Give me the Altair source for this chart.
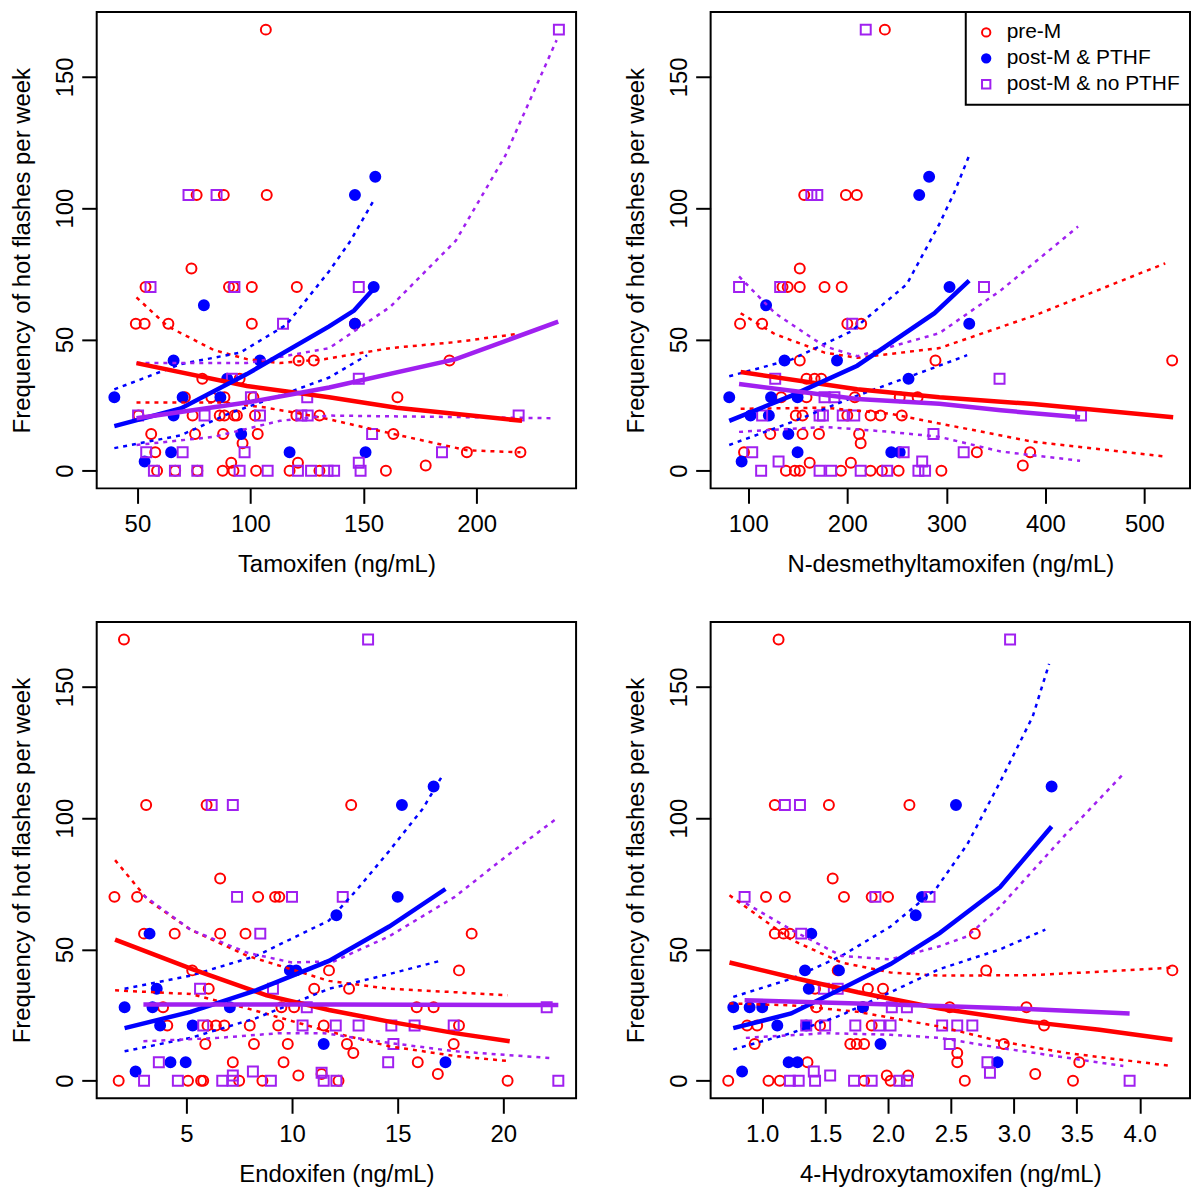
import altair as alt
import pandas as pd

GROUPS = ["pre-M", "post-M & PTHF", "post-M & no PTHF"]
COLORS = ["#FF0000", "#0000FF", "#A020F0"]
FILLS = ["transparent", "#0000FF", "transparent"]
SHAPES = ["circle", "circle", "square"]

Y_TITLE = "Frequency of hot flashes per week"
Y_TICKS = [0, 50, 100, 150]
Y_DOMAIN = [-6.72, 174.72]

# ---------------- Tamoxifen ----------------
TAM_TITLE = "Tamoxifen (ng/mL)"
TAM_TICKS = [50, 100, 150, 200]
TAM_DOMAIN = [32, 244]
TAM_PRE = [(106.8,168),(76.2,105),(88.2,105),(107.2,105),(73.9,77),(53.6,70),(90.5,70),(92.5,70),(100.6,70),(120.5,70),
           (49.3,56),(53.2,56),(63.7,56),(100.6,56),(146.2,56),(121.3,42),(128.0,42),(188.0,42),(78.7,35),(95.2,35),
           (71.0,28),(82.7,28),(88.5,28),(101.3,28),(165.0,28),(50.5,21),(74.4,21),(86.4,21),(88.5,21),(92.9,21),
           (94.0,21),(102.0,21),(120.3,21),(130.5,21),(56.1,14),(75.5,14),(87.9,14),(103.2,14),(163.2,14),(96.5,10.5),
           (57.9,7),(195.7,7),(219.4,7),(91.5,3),(121.0,3),(177.5,2),(58.7,0),(66.7,0),(76.5,0),(87.7,0),(92.5,0),
           (102.5,0),(117.3,0),(130.5,0),(159.9,0)]
TAM_PTHF = [(155.2,112),(146.2,105),(154.5,70),(79.4,63),(146.2,56),(66.0,42),(104.2,42),(89.7,35),(39.8,28),(70.0,28),
            (86.7,28),(66.0,21),(95.9,14),(64.9,7),(117.3,7),(150.9,7),(53.2,3.5)]
TAM_NOPTHF = [(236.4,168),(72.6,105),(85.0,105),(55.8,70),(92.9,70),(147.9,70),(114.4,56),(91.8,35),(147.9,35),(100.2,28),
              (125.1,28),(50.3,21),(79.7,21),(104.2,21),(122.5,21),(125.3,21),(218.6,21),(153.8,14),(53.9,7),(70.0,7),
              (97.4,7),(184.7,7),(147.9,3),(57.3,0),(66.6,0),(76.5,0),(95.2,0),(107.6,0),(121.0,0),(126.8,0),(134.1,0),
              (137.0,0),(148.7,0)]
TAM_PRE_FIT = [(49.6,41),(98.4,32.3),(134.8,28),(164.6,24),(220.1,19)]
TAM_PRE_UP = [(49.6,66),(63.4,55),(83.7,46),(98.4,42.5),(113,41),(132.6,42.5),(161.8,46.7),(190.8,49),(217,52)]
TAM_PRE_LO = [(49.6,26),(88.2,26),(107.2,24),(120.3,22),(132.6,20),(163.2,14),(195.7,7.8),(219.4,7)]
TAM_PTHF_FIT = [(39.8,17),(69.2,23.7),(98.4,36.8),(134.8,55),(145.8,61),(155.2,70)]
TAM_PTHF_UP = [(39.8,31),(69.2,40.6),(95.5,45),(115.9,55.6),(134.8,76),(144.3,87.6),(154.5,103)]
TAM_PTHF_LO = [(39.8,8.6),(69.2,13.5),(91.1,22),(113,28.6),(134.8,35.5),(151.6,44)]
TAM_NO_FIT = [(49.6,20),(98.4,26),(134.8,31.7),(190.8,42.5),(236.1,56.8)]
TAM_NO_UP = [(49.6,41),(98.4,41),(134.8,46.7),(161.8,62.4),(190.8,87.6),(212.7,120),(235.4,164)]
TAM_NO_LO = [(49.6,9.8),(83.7,12.9),(113,19),(134.8,21),(234.5,20)]

# ---------------- N-desmethyltamoxifen ----------------
NDM_TITLE = "N-desmethyltamoxifen (ng/mL)"
NDM_TICKS = [100, 200, 300, 400, 500]
NDM_DOMAIN = [62, 546]
NDM_PRE = [(237.9,168),(156.5,105),(198.6,105),(209.6,105),(152,77),(134.6,70),(139.8,70),(152,70),(177,70),(194.3,70),
           (91.7,56),(114,56),(200,56),(214,56),(152,42),(289,42),(528,42),(158.8,35),(167,35),(173.7,35),(133.2,28),
           (158.8,28),(207.6,28),(252.9,28),(271,28),(148,21),(154.8,21),(200,21),(223.5,21),(233.5,21),(255,21),
           (122.2,14),(154.8,14),(171.4,14),(211.9,14),(213.5,10.5),(95.7,7),(330.8,7),(384.6,7),(162,3),(203.6,3),
           (377.2,2),(138,0),(147,0),(152,0),(193.6,0),(223.5,0),(235,0),(251.8,0),(295,0)]
NDM_PTHF = [(282.6,112),(272.6,105),(303.2,70),(118,63),(323.1,56),(136.6,42),(189.6,42),(261.8,35),(80.8,28),(123,28),
            (149.8,28),(102.3,21),(120.8,21),(140.5,14),(149.8,7),(244.4,7),(252.9,7),(93.3,3.5)]
NDM_NOPTHF = [(218.6,168),(163.7,105),(169.7,105),(90.7,70),(132.2,70),(338,70),(205,56),(127.2,35),(353.7,35),(177,28),
              (187,28),(114,21),(172,21),(175.4,21),(195.4,21),(207,21),(436,21),(287,14),(104,7),(256.9,7),(317.5,7),
              (130.6,3.5),(275.6,3.5),(113,0),(172,0),(183.7,0),(213.5,0),(240.3,0),(271.8,0),(278.5,0)]
NDM_PRE_FIT = [(92.3,37.6),(210,31),(293,28),(388,25.4),(529,20.4)]
NDM_PRE_UP = [(92.3,60),(127,52),(177,45),(210,43),(293,46.7),(388,59),(521,79)]
NDM_PRE_LO = [(92.3,23.6),(177,24),(243.4,21.7),(293,18),(388,11),(521,5.4)]
NDM_PTHF_FIT = [(80.8,19),(143.8,28.6),(210,40),(288,60),(323,72.4)]
NDM_PTHF_UP = [(80.8,36),(144,42.4),(203.5,53),(260,71),(293,94),(308,106),(323,120)]
NDM_PTHF_LO = [(80.8,9.8),(143.8,18.5),(210,28.6),(293,40),(321,44)]
NDM_NO_FIT = [(90.7,33),(210,27.3),(293,25.5),(355,23),(435,20.4)]
NDM_NO_UP = [(90.7,74),(127,60),(177,47.4),(210,43.6),(293,52.4),(355,68.7),(433,93)]
NDM_NO_LO = [(90.7,14.8),(177,16.7),(243,14.8),(293,12.9),(355,7.3),(435,3.8)]

# ---------------- Endoxifen ----------------
END_TITLE = "Endoxifen (ng/mL)"
END_TICKS = [5, 10, 15, 20]
END_DOMAIN = [0.76, 23.44]
END_PRE = [(2.05,168),(3.1,105),(5.96,105),(12.8,105),(6.6,77),(1.6,70),(2.67,70),(8.4,70),(9.2,70),(9.4,70),
           (3.0,56),(4.45,56),(6.6,56),(7.8,56),(18.5,56),(5.28,42),(11.75,42),(17.9,42),(6.06,35),(11.05,35),
           (12.7,35),(3.9,28),(9.5,28),(10.1,28),(15.9,28),(16.7,28),(4.1,21),(6.0,21),(6.4,21),(6.8,21),(8.0,21),
           (9.35,21),(11.5,21),(17.9,21),(5.9,14),(8.2,14),(9.8,14),(12.6,14),(17.65,14),(12.9,10.5),(7.2,7),(9.6,7),
           (15.95,7),(10.3,2),(11.4,2.5),(16.9,2.5),(1.8,0),(5.08,0),(5.7,0),(5.8,0),(7.5,0),(8.6,0),(12.2,0),(20.2,0)]
END_PTHF = [(16.7,112),(15.2,105),(15.0,70),(12.1,63),(3.26,56),(9.9,42),(10.2,42),(3.6,35),(2.08,28),(3.4,28),
            (7.06,28),(3.76,21),(5.3,21),(11.5,14),(4.25,7),(4.97,7),(17.26,7),(2.6,3.5)]
END_NOPTHF = [(13.6,168),(6.2,105),(7.2,105),(7.4,70),(10.0,70),(12.4,70),(8.5,56),(5.65,35),(9.1,35),(10.7,28),
              (22.05,28),(5.8,21),(10.5,21),(12.07,21),(13.15,21),(14.7,21),(15.8,21),(17.65,21),(14.8,14),(3.7,7),
              (14.55,7),(8.15,3.5),(11.4,3),(3.0,0),(4.6,0),(6.7,0),(7.2,0),(7.2,2),(9.0,0),(11.5,0),(12.1,0),(22.6,0)]
END_PRE_FIT = [(1.63,53.7),(5.28,42.5),(8.8,32.5),(11.75,26.9),(14.6,22.5),(17.7,18.1),(20.3,15)]
END_PRE_UP = [(1.63,84),(3.2,68.7),(5.2,57.5),(7.9,47.5),(11.75,38),(14.6,35),(17.7,33.7),(20.2,32.5)]
END_PRE_LO = [(1.63,34.4),(5.2,33),(7.9,27.5),(11.75,18.7),(14.6,13.1),(17.7,9.4),(20.2,7.5)]
END_PTHF_FIT = [(2.08,20),(5.2,26.2),(8.3,34.4),(11.75,45.6),(14.6,58.7),(17.26,73)]
END_PTHF_UP = [(2.08,35),(5.2,40),(8.3,47.5),(11.75,61),(13.1,73),(14.6,87.5),(16.2,103.7),(17.1,116)]
END_PTHF_LO = [(2.08,11.2),(5.2,16.3),(8.3,23.8),(11.75,35),(14.6,40.6),(17.0,45.6)]
END_NO_FIT = [(2.97,29),(12.0,29),(22.6,28.8)]
END_NO_UP = [(2.97,70.6),(5.2,57.5),(7.9,48.7),(10.0,45),(12.0,45.5),(14.6,55),(17.7,70),(20.06,85),(22.55,100)]
END_NO_LO = [(2.97,15),(6.5,16.3),(9.4,18.1),(11.5,18.1),(14.6,14.4),(17.7,11.2),(22.4,8.5)]

# ---------------- 4-Hydroxytamoxifen ----------------
HYD_TITLE = "4-Hydroxytamoxifen (ng/mL)"
HYD_TICKS = [1.0, 1.5, 2.0, 2.5, 3.0, 3.5, 4.0]
HYD_DOMAIN = [0.59, 4.40]
HYD_PRE = [(1.13,168),(1.10,105),(1.53,105),(2.17,105),(1.56,77),(1.03,70),(1.18,70),(1.65,70),(1.87,70),(2.0,70),
           (1.10,56),(1.17,56),(1.22,56),(2.69,56),(1.6,42),(2.78,42),(4.26,42),(1.42,35),(1.84,35),(1.96,35),
           (1.43,28),(1.8,28),(2.49,28),(3.1,28),(0.88,21),(0.96,21),(1.46,21),(1.87,21),(3.24,21),(0.94,14),
           (1.70,14),(1.75,14),(1.81,14),(2.92,14),(2.55,10.5),(1.36,7),(2.55,7),(3.52,7),(1.99,2),(2.16,2),(3.17,2.5),
           (0.73,0),(1.05,0),(1.14,0),(1.81,0),(2.02,0),(2.61,0),(3.47,0)]
HYD_PTHF = [(3.30,112),(2.54,105),(2.27,70),(2.22,63),(1.39,56),(1.34,42),(1.61,42),(1.37,35),(0.77,28),(0.90,28),
            (1.0,28),(1.80,28),(1.12,21),(1.35,21),(1.94,14),(1.21,7),(1.28,7),(2.87,7),(0.84,3.5)]
HYD_NOPTHF = [(2.97,168),(1.18,105),(1.30,105),(0.86,70),(1.90,70),(2.33,70),(1.31,56),(1.49,35),(1.6,35),(2.03,28),
              (2.15,28),(1.35,21),(1.5,21),(1.74,21),(1.93,21),(2.02,21),(2.43,21),(2.55,21),(2.67,21),(2.49,14),
              (2.79,7),(1.41,3.5),(1.54,2),(2.81,3),(1.22,0),(1.29,0),(1.42,0),(1.73,0),(1.87,0),(2.09,0),(2.15,0),
              (3.92,0)]
HYD_PRE_FIT = [(0.74,45),(1.23,39.4),(1.76,33.7),(2.41,27.5),(3.15,22.3),(3.68,19.4),(4.26,15.6)]
HYD_PRE_UP = [(0.74,70.6),(1.23,53.7),(1.63,45),(2.02,41.2),(2.41,40),(3.15,40.2),(3.68,41.5),(4.25,43)]
HYD_PRE_LO = [(0.74,29.4),(1.23,28.7),(1.76,26.2),(2.41,20.6),(2.89,15),(3.41,10.6),(4.25,5.6)]
HYD_PTHF_FIT = [(0.77,20),(1.23,25.6),(1.63,35),(2.02,44.4),(2.41,56.2),(2.89,73.7),(3.30,96.8)]
HYD_PTHF_UP = [(0.77,31.9),(1.23,38.8),(1.63,47.5),(2.02,58.7),(2.38,73),(2.63,90),(2.89,113.7),(3.15,138.7),(3.28,158.7)]
HYD_PTHF_LO = [(0.77,11.9),(1.23,18.1),(1.63,25),(2.02,33.7),(2.41,42.5),(2.89,50),(3.25,57.5)]
HYD_NO_FIT = [(0.86,30.6),(1.76,29.4),(2.41,28.4),(2.89,27.7),(3.92,25.6)]
HYD_NO_UP = [(0.87,67.5),(1.23,57.5),(1.63,47.5),(2.02,46.2),(2.41,51.2),(2.63,55),(2.89,66.2),(3.41,93.7),(3.87,116.8)]
HYD_NO_LO = [(0.87,16.3),(1.50,18.1),(2.02,17.5),(2.41,16.3),(2.89,12.5),(3.41,8.8),(3.87,5.6)]

FONT = "Liberation Sans"
W, H = 481, 478


def build_panel(points, curves, xdom, xticks, xtitle, xfmt, with_legend):
    prow = []
    for g, lst in zip(GROUPS, points):
        for x, y in lst:
            prow.append({"group": g, "x": x, "y": y})
    pdf = pd.DataFrame(prow)
    lrow = []
    for g, trio in zip(GROUPS, curves):
        for kind, lst in zip(["fit", "up", "lo"], trio):
            for i, (x, y) in enumerate(lst):
                lrow.append({"group": g, "kind": kind, "key": g + "|" + kind, "i": i, "x": x, "y": y})
    ldf = pd.DataFrame(lrow)

    x_enc = alt.X("x:Q", scale=alt.Scale(domain=xdom, nice=False, zero=False),
                  axis=alt.Axis(values=xticks, format=xfmt, title=xtitle, labelPadding=9, titlePadding=16))
    y_enc = alt.Y("y:Q", scale=alt.Scale(domain=Y_DOMAIN, nice=False, zero=False),
                  axis=alt.Axis(values=Y_TICKS, title=Y_TITLE, labelAngle=270, labelAlign="center",
                                labelBaseline="bottom", labelPadding=4, titlePadding=19))
    if with_legend:
        leg = alt.Legend(title=None, orient="top-right", offset=0, labelLimit=400)
    else:
        leg = None
    color = alt.Color("group:N", scale=alt.Scale(domain=GROUPS, range=COLORS), legend=leg)
    shape = alt.Shape("group:N", scale=alt.Scale(domain=GROUPS, range=SHAPES), legend=leg)
    fill = alt.Fill("group:N", scale=alt.Scale(domain=GROUPS, range=FILLS), legend=leg)
    stroke = alt.Stroke("group:N", scale=alt.Scale(domain=GROUPS, range=COLORS), legend=None)

    pts = alt.Chart(pdf).mark_point(size=100, strokeWidth=2, opacity=1, fillOpacity=1).encode(
        x=x_enc, y=y_enc, color=color, shape=shape, fill=fill)
    ci = alt.Chart(ldf[ldf["kind"] != "fit"]).mark_line(strokeWidth=2.5, strokeDash=[4, 5]).encode(
        x=x_enc, y=y_enc, stroke=stroke, detail="key:N", order="i:Q")
    fit = alt.Chart(ldf[ldf["kind"] == "fit"]).mark_line(strokeWidth=4.5).encode(
        x=x_enc, y=y_enc, stroke=stroke, detail="key:N", order="i:Q")
    return alt.layer(pts, ci, fit).properties(width=W, height=H)


tl = build_panel([TAM_PRE, TAM_PTHF, TAM_NOPTHF],
                 [(TAM_PRE_FIT, TAM_PRE_UP, TAM_PRE_LO), (TAM_PTHF_FIT, TAM_PTHF_UP, TAM_PTHF_LO),
                  (TAM_NO_FIT, TAM_NO_UP, TAM_NO_LO)],
                 TAM_DOMAIN, TAM_TICKS, TAM_TITLE, "d", False)
tr = build_panel([NDM_PRE, NDM_PTHF, NDM_NOPTHF],
                 [(NDM_PRE_FIT, NDM_PRE_UP, NDM_PRE_LO), (NDM_PTHF_FIT, NDM_PTHF_UP, NDM_PTHF_LO),
                  (NDM_NO_FIT, NDM_NO_UP, NDM_NO_LO)],
                 NDM_DOMAIN, NDM_TICKS, NDM_TITLE, "d", True)
bl = build_panel([END_PRE, END_PTHF, END_NOPTHF],
                 [(END_PRE_FIT, END_PRE_UP, END_PRE_LO), (END_PTHF_FIT, END_PTHF_UP, END_PTHF_LO),
                  (END_NO_FIT, END_NO_UP, END_NO_LO)],
                 END_DOMAIN, END_TICKS, END_TITLE, "d", False)
br = build_panel([HYD_PRE, HYD_PTHF, HYD_NOPTHF],
                 [(HYD_PRE_FIT, HYD_PRE_UP, HYD_PRE_LO), (HYD_PTHF_FIT, HYD_PTHF_UP, HYD_PTHF_LO),
                  (HYD_NO_FIT, HYD_NO_UP, HYD_NO_LO)],
                 HYD_DOMAIN, HYD_TICKS, HYD_TITLE, ".1f", False)

chart = alt.concat(tl, tr, bl, br, columns=2, spacing={"row": 134, "column": 135}, bounds="flush").properties(
    padding={"left": 2, "top": 0, "right": 0, "bottom": 0}
).resolve_scale(color="independent", shape="independent", fill="independent", stroke="independent"
).configure_view(stroke="black", strokeWidth=2
).configure_axis(labelFont=FONT, titleFont=FONT, labelFontSize=24, titleFontSize=24, titleFontWeight="normal",
                 labelColor="black", titleColor="black", tickColor="black", tickWidth=2, tickSize=15,
                 domain=False, grid=False
).configure_legend(labelFont=FONT, labelFontSize=21, labelColor="black", strokeColor="black", strokeWidth=2,
                   fillColor="white", padding=10, symbolSize=70, symbolStrokeWidth=2, rowPadding=4, labelOffset=10)

chart.save("out.html", embed_options={"renderer": "svg", "actions": False})
